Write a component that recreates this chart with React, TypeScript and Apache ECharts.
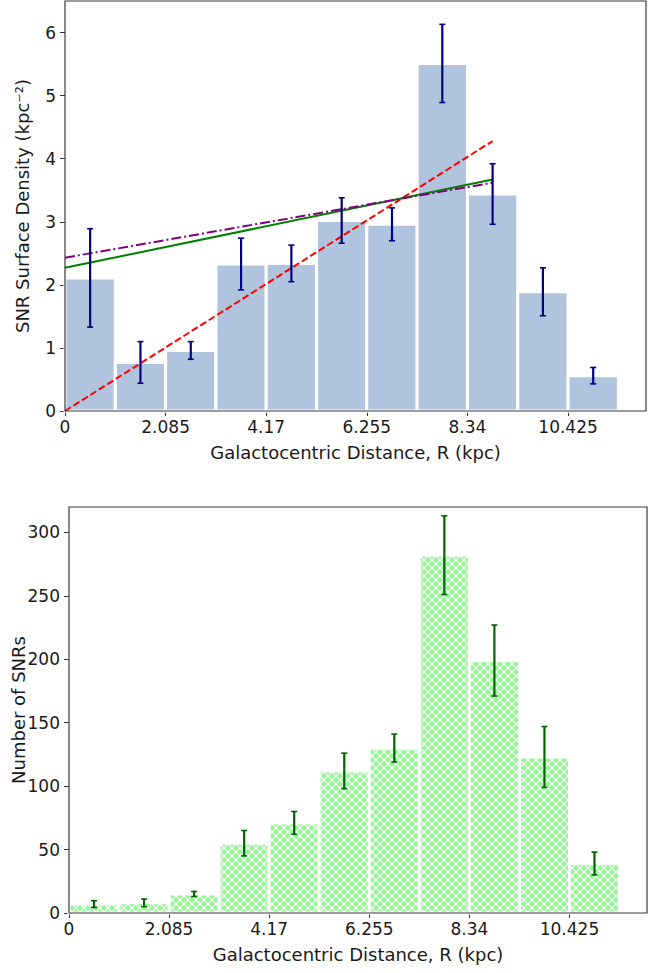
import React, { useEffect, useRef } from "react";
import * as echarts from "echarts";

// Radial bins (kpc)
const binWidth = 1.0425;
const binLeft = [0, 1.0425, 2.085, 3.1275, 4.17, 5.2125, 6.255, 7.2975, 8.34, 9.3825, 10.425];

// SNR surface density per bin (kpc^-2) and its uncertainty
const density = [2.11, 0.77, 0.96, 2.33, 2.34, 3.02, 2.96, 5.51, 3.44, 1.89, 0.56];
const densityErr = [0.78, 0.33, 0.14, 0.41, 0.29, 0.36, 0.26, 0.62, 0.48, 0.38, 0.13];

// Number of SNRs per bin and its uncertainty
const counts = [7, 8, 15, 55, 71, 112, 130, 282, 199, 123, 39];
const countErr = [2.7, 3, 2, 10, 9, 14, 11, 31, 28, 24, 9];

// Fitted profiles, evaluated at the two ends of the fit range
const fitX = [0, 8.86125];
const fitRed = [0, 4.28];
const fitGreen = [2.27, 3.67];
const fitPurple = [2.43, 3.62];

// Axis ticks
const xTicks = [0, 2.085, 4.17, 6.255, 8.34, 10.425];
const xTickLabels = ["0", "2.085", "4.17", "6.255", "8.34", "10.425"];
const yTicksTop = [0, 1, 2, 3, 4, 5, 6];
const yTicksBottom = [0, 50, 100, 150, 200, 250, 300];

const FONT = "DejaVu Sans";
const INK = "#1a1a1a";

const G1 = { left: 65, top: 1, width: 581, height: 410 };
const G2 = { left: 69, top: 507, width: 578, height: 406 };

function makeHatch(): HTMLCanvasElement {
  const s = 8;
  const c = document.createElement("canvas");
  c.width = s;
  c.height = s;
  const ctx = c.getContext("2d")!;
  ctx.fillStyle = "#97F497";
  ctx.fillRect(0, 0, s, s);
  ctx.strokeStyle = "#ffffff";
  ctx.lineWidth = 1.2;
  ctx.beginPath();
  ctx.moveTo(-1, -1);
  ctx.lineTo(s + 1, s + 1);
  ctx.moveTo(-1, s + 1);
  ctx.lineTo(s + 1, -1);
  ctx.stroke();
  return c;
}

function xLabel(v: number): string {
  const i = xTicks.findIndex((t) => Math.abs(t - v) < 1e-6);
  return i >= 0 ? xTickLabels[i] : "";
}

function xAxisFor(gridIndex: number) {
  return {
    type: "value",
    gridIndex,
    min: 0,
    max: 12.04,
    axisLine: { show: false },
    splitLine: { show: false },
    axisTick: { show: true, customValues: xTicks, length: 5, lineStyle: { color: "#333", width: 1 } },
    axisLabel: {
      customValues: xTicks,
      formatter: xLabel,
      fontSize: 17,
      fontFamily: FONT,
      color: INK,
      margin: 7,
    },
    name: "Galactocentric Distance, R (kpc)",
    nameLocation: "middle",
    nameGap: 32,
    nameMoveOverlap: false,
    nameTextStyle: { fontSize: 18, fontFamily: FONT, color: INK },
  };
}

function yAxisFor(gridIndex: number, max: number, ticks: number[], name: string, nameGap: number) {
  return {
    type: "value",
    gridIndex,
    min: 0,
    max,
    axisLine: { show: false },
    splitLine: { show: false },
    axisTick: { show: true, customValues: ticks, length: 5, lineStyle: { color: "#333", width: 1 } },
    axisLabel: {
      customValues: ticks,
      fontSize: 17,
      fontFamily: FONT,
      color: INK,
      margin: 9,
    },
    name,
    nameLocation: "middle",
    nameGap,
    nameMoveOverlap: false,
    nameTextStyle: { fontSize: 18, fontFamily: FONT, color: INK },
  };
}

function barSeries(axis: number, values: number[], fill: any) {
  return {
    type: "custom",
    xAxisIndex: axis,
    yAxisIndex: axis,
    z: 2,
    data: values.map((v, i) => [binLeft[i], v]),
    renderItem: (_p: any, api: any) => {
      const x0 = api.value(0);
      const v = api.value(1);
      const a = api.coord([x0, v]);
      const b = api.coord([x0 + binWidth, 0]);
      return {
        type: "rect",
        shape: { x: a[0], y: a[1], width: b[0] - a[0], height: b[1] - a[1] },
        style: { fill, stroke: "#ffffff", lineWidth: 3 },
      };
    },
  };
}

function errSeries(axis: number, values: number[], errs: number[], color: string) {
  return {
    type: "custom",
    xAxisIndex: axis,
    yAxisIndex: axis,
    z: 5,
    data: values.map((v, i) => [binLeft[i] + binWidth / 2, v, errs[i]]),
    renderItem: (_p: any, api: any) => {
      const x = api.value(0);
      const v = api.value(1);
      const e = api.value(2);
      const t = api.coord([x, v + e]);
      const b = api.coord([x, v - e]);
      const cap = 3;
      return {
        type: "group",
        children: [
          { type: "line", shape: { x1: t[0], y1: t[1], x2: b[0], y2: b[1] }, style: { stroke: color, lineWidth: 2.2 } },
          { type: "line", shape: { x1: t[0] - cap, y1: t[1], x2: t[0] + cap, y2: t[1] }, style: { stroke: color, lineWidth: 1.6 } },
          { type: "line", shape: { x1: b[0] - cap, y1: b[1], x2: b[0] + cap, y2: b[1] }, style: { stroke: color, lineWidth: 1.6 } },
        ],
      };
    },
  };
}

function fitSeries(ys: number[], color: string, type: any) {
  return {
    type: "line",
    xAxisIndex: 0,
    yAxisIndex: 0,
    z: 4,
    symbol: "none",
    silent: true,
    data: fitX.map((x, i) => [x, ys[i]]),
    lineStyle: { color, width: 2, type },
  };
}

function frame(g: { left: number; top: number; width: number; height: number }) {
  return {
    type: "rect",
    z: 100,
    silent: true,
    shape: { x: g.left, y: g.top, width: g.width, height: g.height },
    style: { fill: "none", stroke: "#3a3a3a", lineWidth: 1.2 },
  };
}

export default function App() {
  const ref = useRef<HTMLDivElement>(null);

  useEffect(() => {
    if (!ref.current) return;
    const chart = echarts.init(ref.current, null, { renderer: "svg" });
    const hatch = makeHatch();

    chart.setOption({
      animation: false,
      backgroundColor: "#ffffff",
      textStyle: { fontFamily: FONT },
      grid: [
        { ...G1, containLabel: false, outerBoundsMode: "none" },
        { ...G2, containLabel: false, outerBoundsMode: "none" },
      ],
      xAxis: [xAxisFor(0), xAxisFor(1)],
      yAxis: [
        yAxisFor(0, 6.5, yTicksTop, "SNR Surface Density (kpc⁻²)", 34),
        yAxisFor(1, 320, yTicksBottom, "Number of SNRs", 42),
      ],
      graphic: [frame(G1), frame(G2)],
      series: [
        barSeries(0, density, "#B0C4DE"),
        fitSeries(fitRed, "#ff0000", [7, 3]),
        fitSeries(fitGreen, "#008000", "solid"),
        fitSeries(fitPurple, "#800080", [10, 3, 2, 3]),
        errSeries(0, density, densityErr, "#000080"),
        barSeries(1, counts, { image: hatch, repeat: "repeat", imageWidth: 8, imageHeight: 8 }),
        errSeries(1, counts, countErr, "#006400"),
      ],
    });

    return () => chart.dispose();
  }, []);

  return (
    <div
      ref={ref}
      style={{ position: "absolute", left: 0, top: 0, width: 657, height: 973 }}
    />
  );
}
